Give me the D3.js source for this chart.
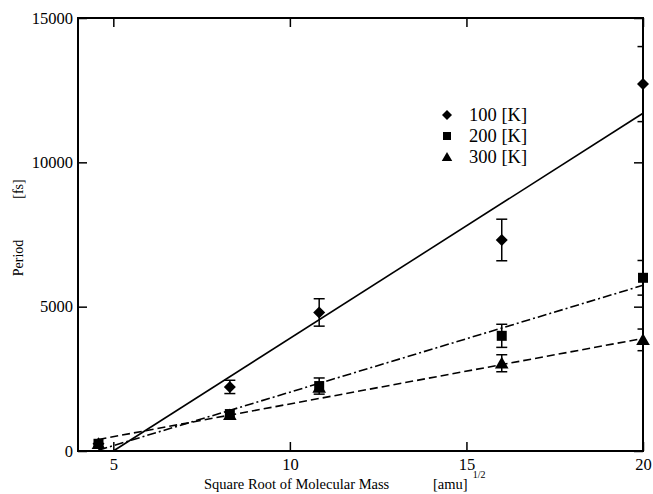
<!DOCTYPE html>
<html>
<head>
<meta charset="utf-8">
<script src="https://cdn.jsdelivr.net/npm/d3@7"></script>
<style>
  body { margin: 0; background: #fff; }
</style>
</head>
<body>
<div id="chart"></div>
<script>
// sqrt of molecular mass
const massRoot = [4.58, 8.3, 10.83, 16.0, 20.0];

// period [fs] and error bars per temperature
const period100 = [250, 2220, 4800, 7310, 12710];
const err100 = [0, 230, 475, 720, 1300];
const period200 = [250, 1280, 2250, 3990, 6000];
const err200 = [0, 0, 280, 400, 600];
const period300 = [250, 1250, 2200, 3040, 3850];
const err300 = [0, 0, 0, 295, 375];

// linear fit end points [x, y]
const fit100 = [[5, 0], [20, 11700]];
const fit200 = [[4.58, 30], [20, 5740]];
const fit300 = [[4.58, 400], [20, 3900]];

const seriesNames = ['100 [K]', '200 [K]', '300 [K]'];
const xTicks = [5, 10, 15, 20];
const yTicks = [0, 5000, 10000, 15000];

const FONT = '"Liberation Serif", "Times New Roman", Times, "DejaVu Serif", serif';

const W = 653, H = 494;
const margin = { top: 18, right: 10, bottom: 43, left: 78 };
const iw = W - margin.left - margin.right;
const ih = H - margin.top - margin.bottom;

const svg = d3.select('#chart').append('svg')
  .attr('width', W).attr('height', H)
  .style('font-family', FONT);

const g = svg.append('g')
  .attr('transform', `translate(${margin.left},${margin.top})`);

const x = d3.scaleLinear().domain([4, 20]).range([0, iw]);
const y = d3.scaleLinear().domain([0, 15000]).range([ih, 0]);

svg.append('defs').append('clipPath').attr('id', 'plotclip')
  .append('rect').attr('width', iw).attr('height', ih);

// axes with inward ticks
const tickLen = 9;
const styleAxis = (sel) => {
  sel.attr('font-family', null).attr('font-size', null);
  sel.select('.domain').remove();
  sel.selectAll('.tick line').attr('stroke', '#000').attr('stroke-width', 1.5);
  sel.selectAll('.tick text').style('font-family', FONT).style('font-size', '16.5px').attr('fill', '#000');
};

g.append('g').attr('transform', `translate(0,${ih})`)
  .call(d3.axisBottom(x).tickValues(xTicks).tickSize(-tickLen).tickPadding(7).tickFormat(d3.format('d')))
  .call(styleAxis);
g.append('g')
  .call(d3.axisTop(x).tickValues(xTicks).tickSize(-tickLen).tickFormat(''))
  .call(styleAxis);
g.append('g')
  .call(d3.axisLeft(y).tickValues(yTicks).tickSize(-tickLen).tickPadding(5).tickFormat(d3.format('d')))
  .call(styleAxis);
g.append('g').attr('transform', `translate(${iw},0)`)
  .call(d3.axisRight(y).tickValues(yTicks).tickSize(-tickLen).tickFormat(''))
  .call(styleAxis);

// frame
g.append('rect')
  .attr('width', iw).attr('height', ih)
  .attr('fill', 'none').attr('stroke', '#000').attr('stroke-width', 2);

// fit lines
const line = d3.line().x(d => x(d[0])).y(d => y(d[1]));
const fits = [
  { pts: fit100, dash: null },
  { pts: fit200, dash: '9,3,2,3' },
  { pts: fit300, dash: '8,4' }
];
g.selectAll('.fit').data(fits).enter().append('path')
  .attr('class', 'fit')
  .attr('d', d => line(d.pts))
  .attr('fill', 'none')
  .attr('stroke', '#000')
  .attr('stroke-width', 1.6)
  .attr('stroke-dasharray', d => d.dash);

// marker shapes
const diamond = (s) => `M0,${-s}L${s},0L0,${s}L${-s},0Z`;
const square = (s) => `M${-s},${-s}H${s}V${s}H${-s}Z`;
const triangle = (s) => `M0,${-s}L${s * 1.05},${s * 0.8}H${-s * 1.05}Z`;

const series = [
  { vals: period100, errs: err100, shape: diamond, size: 6, lsize: 5 },
  { vals: period200, errs: err200, shape: square, size: 5, lsize: 4 },
  { vals: period300, errs: err300, shape: triangle, size: 6.5, lsize: 5 }
];

series.forEach(s => {
  const pts = massRoot.map((m, i) => ({ m: m, v: s.vals[i], e: s.errs[i] }));
  const eb = g.append('g').attr('clip-path', 'url(#plotclip)');
  pts.filter(p => p.e > 0).forEach(p => {
    const cx = x(p.m), y1 = y(p.v + p.e), y2 = y(p.v - p.e);
    eb.append('line').attr('x1', cx).attr('x2', cx).attr('y1', y1).attr('y2', y2)
      .attr('stroke', '#000').attr('stroke-width', 1.5);
    [y1, y2].forEach(yy => eb.append('line')
      .attr('x1', cx - 5.5).attr('x2', cx + 5.5).attr('y1', yy).attr('y2', yy)
      .attr('stroke', '#000').attr('stroke-width', 1.5));
  });
  g.append('g').selectAll('path').data(pts).enter().append('path')
    .attr('d', s.shape(s.size))
    .attr('transform', d => `translate(${x(d.m)},${y(d.v)})`)
    .attr('fill', '#000');
});

// legend
const legend = svg.append('g').attr('transform', 'translate(447,115)');
series.forEach((s, i) => {
  const row = legend.append('g').attr('transform', `translate(0,${i * 21})`);
  row.append('path').attr('d', s.shape(s.lsize)).attr('fill', '#000');
  row.append('text').attr('x', 22).attr('y', 6)
    .style('font-family', FONT).style('font-size', '18.5px').text(seriesNames[i]);
});

// axis titles
svg.append('text')
  .attr('x', 204).attr('y', 489)
  .style('font-family', FONT).style('font-size', '14.5px')
  .text('Square Root of Molecular Mass');
const unit = svg.append('text').attr('x', 433).attr('y', 489)
  .style('font-family', FONT).style('font-size', '14.5px');
unit.append('tspan').text('[amu]');
unit.append('tspan').attr('dx', 5).attr('dy', -11).style('font-size', '10px').text('1/2');

svg.append('text')
  .attr('transform', 'translate(23,258) rotate(-90)')
  .attr('text-anchor', 'middle')
  .style('font-family', FONT).style('font-size', '14px')
  .text('Period');
svg.append('text')
  .attr('transform', 'translate(23,189) rotate(-90)')
  .attr('text-anchor', 'middle')
  .style('font-family', FONT).style('font-size', '14px')
  .text('[fs]');
</script>
</body>
</html>
